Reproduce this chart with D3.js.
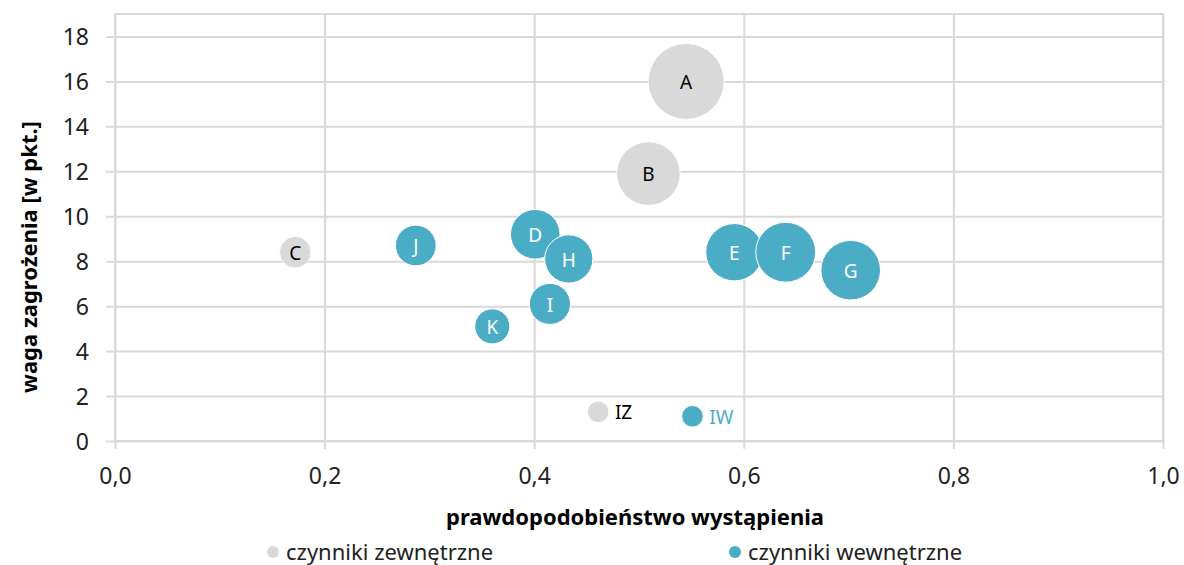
<!DOCTYPE html>
<html>
<head>
<meta charset="utf-8">
<script src="https://cdn.jsdelivr.net/npm/d3@7/dist/d3.min.js"></script>
<style>
  body { margin: 0; background: #fff; }
  text { font-family: "Noto Sans", "Open Sans", sans-serif; }
</style>
</head>
<body>
<div id="chart"></div>
<script>
// risk factors: label, probability, weight, bubble size, group
var labels = ["A", "B", "C", "J", "D", "H", "I", "K", "E", "F", "G", "IZ", "IW"]
var probability = [0.545, 0.509, 0.172, 0.287, 0.401, 0.433, 0.415, 0.360, 0.591, 0.640, 0.702, 0.461, 0.551]
var weight = [16.0, 11.9, 8.4, 8.7, 9.2, 8.1, 6.1, 5.1, 8.4, 8.4, 7.6, 1.3, 1.1]
var sizes = [8.7, 6.1, 1.5, 2.5, 3.7, 3.5, 2.55, 1.85, 4.95, 5.4, 5.35, 0.7, 0.7]
var groups = ["zew", "zew", "zew", "wew", "wew", "wew", "wew", "wew", "wew", "wew", "wew", "zew", "wew"]

var xTicks = [0, 0.2, 0.4, 0.6, 0.8, 1.0]
var yTicks = [0, 2, 4, 6, 8, 10, 12, 14, 16, 18]
var legendNames = ["czynniki zewnętrzne", "czynniki wewnętrzne"]

var grey = "#d9d9d9", blue = "#4bacc6"

var margin = { top: 14, left: 115, right: 21, bottom: 124 },
  width = 1184 - margin.left - margin.right,
  height = 565 - margin.top - margin.bottom

var svg = d3.select("#chart")
  .append("svg")
  .attr("width", 1184)
  .attr("height", 565)

var g = svg.append("g")
  .attr("transform", "translate(" + margin.left + "," + margin.top + ")")

var x = d3.scaleLinear().domain([0, 1]).range([0, width])
var y = d3.scaleLinear().domain([0, 19]).range([height, 0])
var r = d3.scaleSqrt().domain([0, 8.7]).range([0, 38])

var points = labels.map(function(d, i) {
  return { label: d, x: probability[i], y: weight[i], size: sizes[i], group: groups[i] }
})

// plot area frame
g.append("rect")
  .attr("width", width)
  .attr("height", height)
  .attr("fill", "none")
  .attr("stroke", grey)
  .attr("stroke-width", 2)

// grid via axes
var xAxis = d3.axisBottom(x)
  .tickValues(xTicks)
  .tickSize(-height - 8)
  .tickFormat(function(d) { return d3.format(".1f")(d).replace(".", ",") })

g.append("g")
  .attr("class", "x-axis")
  .attr("transform", "translate(0," + (height + 8) + ")")
  .call(xAxis)

var yAxis = d3.axisLeft(y)
  .tickValues(yTicks)
  .tickSize(-width - 9)
  .tickFormat(d3.format("d"))

g.append("g")
  .attr("class", "y-axis")
  .attr("transform", "translate(-9,0)")
  .call(yAxis)

g.selectAll(".domain").remove()
g.selectAll(".tick line")
  .attr("stroke", grey)
  .attr("stroke-width", 2)
g.selectAll(".tick text")
  .attr("fill", "#222")
  .style("font-size", "23px")
g.selectAll(".x-axis .tick text").attr("y", 14).attr("dy", "0.9em")
g.selectAll(".y-axis .tick text").attr("x", -17).attr("dy", "0.35em")

// bubbles
var bubble = g.selectAll(".bubble")
  .data(points)
  .enter().append("g")
  .attr("class", "bubble")
  .attr("transform", function(d) {
    return "translate(" + x(d.x) + "," + y(d.y) + ")"
  })

bubble.append("circle")
  .attr("r", function(d) { return r(d.size) })
  .attr("fill", function(d) { return d.group == "zew" ? grey : blue })
  .attr("stroke", "white")
  .attr("stroke-width", 1)

bubble.append("text")
  .text(function(d) { return d.label })
  .attr("x", function(d) { return d.label.length > 1 ? r(d.size) + 6 : 0 })
  .attr("y", 1)
  .attr("dy", "0.35em")
  .attr("text-anchor", function(d) { return d.label.length > 1 ? "start" : "middle" })
  .attr("fill", function(d) {
    if (d.label.length > 1) return d.group == "zew" ? "#000" : blue
    return d.group == "zew" ? "#000" : "#fff"
  })
  .style("font-size", "19px")

// axis titles
svg.append("text")
  .attr("x", 635)
  .attr("y", 525)
  .attr("text-anchor", "middle")
  .style("font-size", "22px")
  .style("font-weight", "bold")
  .text("prawdopodobieństwo wystąpienia")

svg.append("text")
  .attr("transform", "translate(37,257) rotate(-90)")
  .attr("text-anchor", "middle")
  .style("font-size", "22px")
  .style("font-weight", "bold")
  .text("waga zagrożenia [w pkt.]")

// legend
var legend = svg.selectAll(".legend")
  .data(legendNames)
  .enter().append("g")
  .attr("class", "legend")
  .attr("transform", function(d, i) {
    return "translate(" + (i == 0 ? 273 : 735) + ",552)"
  })

legend.append("circle")
  .attr("r", 6)
  .attr("fill", function(d, i) { return i == 0 ? grey : blue })

legend.append("text")
  .attr("x", 13)
  .attr("dy", "0.35em")
  .attr("fill", "#222")
  .style("font-size", "22px")
  .text(function(d) { return d })
</script>
</body>
</html>
